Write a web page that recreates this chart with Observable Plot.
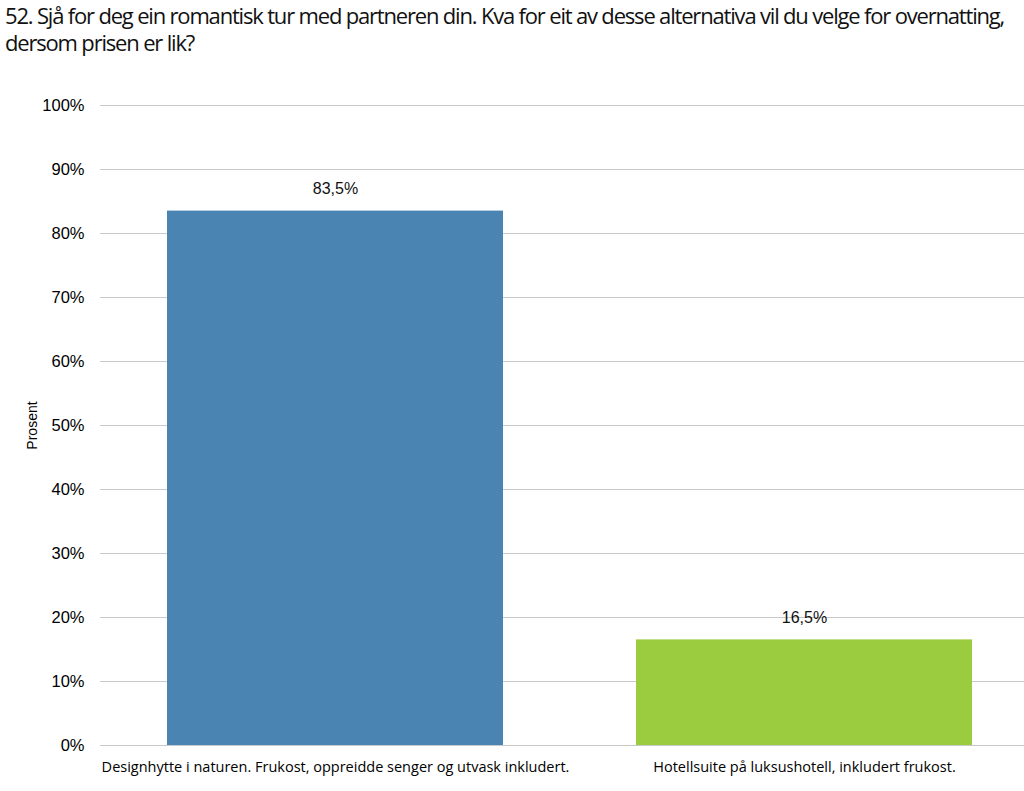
<!DOCTYPE html>
<html>
<head>
<meta charset="utf-8">
<script src="https://cdn.jsdelivr.net/npm/d3@7"></script>
<script src="https://cdn.jsdelivr.net/npm/@observablehq/plot@0.6"></script>
<style>
  html, body { margin: 0; padding: 0; background: #fff; overflow: hidden; width: 1024px; height: 791px; }
  #title { position: absolute; left: 5px; top: 2px; width: 1019px; font-family: "Open Sans", sans-serif; font-size: 22px; line-height: 27px; letter-spacing: -1.18px; color: #111; }
  #chart { position: absolute; left: 0; top: 75px; }
  #chart svg [aria-label="y-axis label"] { font-size: 14px; font-family: "Liberation Sans", Arial, sans-serif; }
</style>
</head>
<body>
<div id="title">52. Sjå for deg ein romantisk tur med partneren din. Kva for eit av desse alternativa vil du velge for overnatting, dersom prisen er lik?</div>
<div id="chart"></div>
<script>
const categories = [
  "Designhytte i naturen. Frukost, oppreidde senger og utvask inkludert.",
  "Hotellsuite på luksushotell, inkludert frukost."
];
const values = [83.5, 16.5];
const barColors = ["#4a84b2", "#9bcb3f"];
const yTicks = [0, 10, 20, 30, 40, 50, 60, 70, 80, 90, 100];
const valueLabels = ["83,5%", "16,5%"];

const data = categories.map((c, i) => ({category: c, value: values[i], color: barColors[i], label: valueLabels[i]}));

const chart = Plot.plot({
  width: 1024,
  height: 716,
  marginTop: 30,
  marginBottom: 46,
  marginLeft: 100,
  marginRight: 0,
  style: {fontFamily: "'Liberation Sans', Arial, sans-serif", color: "#000", background: "#fff"},
  x: {domain: categories, range: [100, 1039], paddingInner: 0.2836, paddingOuter: 0.1428},
  y: {domain: [0, 100], ticks: yTicks, tickFormat: d => d + "%"},
  marks: [
    Plot.ruleY(yTicks, {stroke: "#c8c8c8", strokeWidth: 1.2}),
    Plot.barY(data, {x: "category", y: "value", fill: "color"}),
    Plot.text(data, {x: "category", y: "value", text: "label", dy: -22, fontSize: 16, fill: "#111"}),
    Plot.axisY({ticks: yTicks, tickFormat: d => d + "%", tickSize: 0, tickPadding: 16, fontSize: 16.5, label: "Prosent", labelAnchor: "center", labelArrow: "none", labelOffset: 73}),
    Plot.axisX({tickSize: 0, tickPadding: 16, fontSize: 14.5, label: null, fontFamily: "'Open Sans', sans-serif"})
  ]
});
document.getElementById("chart").appendChild(chart);
</script>
</body>
</html>
